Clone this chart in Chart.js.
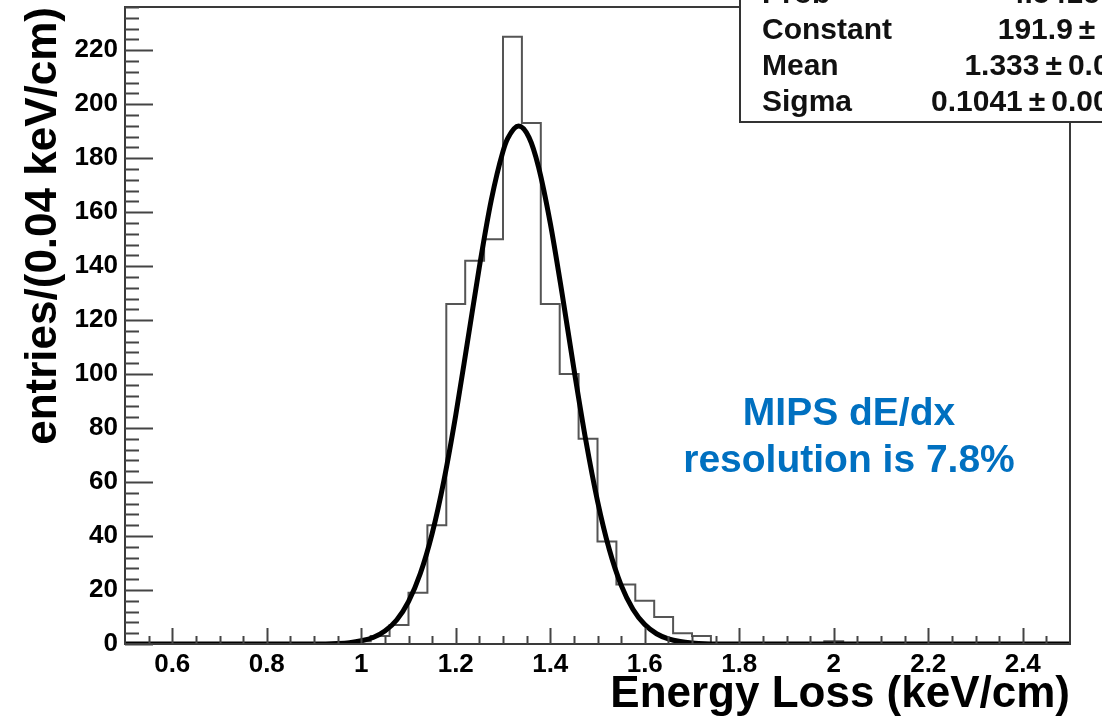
<!DOCTYPE html>
<html>
<head>
<meta charset="utf-8">
<script src="https://cdn.jsdelivr.net/npm/chart.js@4.4.1/dist/chart.umd.min.js"></script>
<style>
  html, body { margin: 0; padding: 0; background: #fff; }
  canvas { display: block; }
</style>
</head>
<body>
<canvas id="histChart" width="1102" height="717"></canvas>
<script>
// histogram: lower bin edges (0.04 keV/cm wide) and entries per bin
const binLow = [0.50, 0.54, 0.58, 0.62, 0.66, 0.70, 0.74, 0.78, 0.82, 0.86,
                0.90, 0.94, 0.98, 1.02, 1.06, 1.10, 1.14, 1.18, 1.22, 1.26,
                1.30, 1.34, 1.38, 1.42, 1.46, 1.50, 1.54, 1.58, 1.62, 1.66,
                1.70, 1.74, 1.78, 1.82, 1.86, 1.90, 1.94, 1.98, 2.02, 2.06,
                2.10, 2.14, 2.18, 2.22, 2.26, 2.30, 2.34, 2.38, 2.42, 2.46];
const binHigh = 2.50;
const counts = [0, 0, 0, 0, 0, 0, 0, 0, 0, 0,
                0, 0, 1, 3, 7, 19, 44, 126, 142, 150,
                225, 193, 126, 100, 76, 38, 22, 16, 10, 4,
                3, 0, 0, 0, 0, 0, 0, 1, 0, 0,
                0, 0, 0, 0, 0, 0, 0, 0, 0, 0];

// gaussian fit curve
const fitX = [0.50, 0.90, 0.95, 0.975, 1.00, 1.025, 1.05, 1.075, 1.10, 1.125,
              1.15, 1.175, 1.20, 1.225, 1.25, 1.275, 1.30, 1.31, 1.333, 1.355,
              1.375, 1.40, 1.425, 1.45, 1.475, 1.50, 1.525, 1.55, 1.575, 1.60,
              1.625, 1.65, 1.675, 1.70, 1.75, 2.50];
const fitY = [0, 0, 0.2, 0.5, 1.2, 2.4, 4.8, 8.9, 15.7, 26.1,
              40.9, 60.6, 84.8, 112.1, 139.7, 164.3, 182.5, 187.3, 191.9, 187.7,
              176.9, 156.0, 129.9, 102.0, 75.7, 53.0, 35.0, 21.8, 12.9, 7.2,
              3.8, 1.9, 0.9, 0.4, 0, 0];

// fit statistics box
const statNames = ['Prob', 'Constant', 'Mean', 'Sigma'];
const statValues = ['4.541e-05', '191.9\u2009\u00b1\u20096.1', '1.333\u2009\u00b1\u20090.003', '0.1041\u2009\u00b1\u20090.0025'];

const xTicks = [0.6, 0.8, 1.0, 1.2, 1.4, 1.6, 1.8, 2.0, 2.2, 2.4];
const xTickLabels = ['0.6', '0.8', '1', '1.2', '1.4', '1.6', '1.8', '2', '2.2', '2.4'];
const yTicks = [0, 20, 40, 60, 80, 100, 120, 140, 160, 180, 200, 220];
const yTickLabels = ['0', '20', '40', '60', '80', '100', '120', '140', '160', '180', '200', '220'];

const noteLines = ['MIPS dE/dx', 'resolution is 7.8%'];

const FONT = 'Liberation Sans, Arial, Helvetica, sans-serif';

const histPoints = binLow.map((x, i) => ({ x: x, y: counts[i] }));
histPoints.push({ x: binHigh, y: counts[counts.length - 1] });
const fitPoints = fitX.map((x, i) => ({ x: x, y: fitY[i] }));

// ROOT style frame, inward ticks, stats box and the blue note
const rootStyle = {
  id: 'rootStyle',
  afterDatasetsDraw(chart) {
    const { ctx, chartArea: a, scales: { x, y } } = chart;
    ctx.save();
    ctx.strokeStyle = '#3a3a3a';
    ctx.lineWidth = 2;
    ctx.strokeRect(a.left, a.top, a.right - a.left, a.bottom - a.top);

    ctx.strokeStyle = '#444';
    ctx.lineWidth = 2;
    ctx.beginPath();
    for (let k = 0; k * 4 <= 236; k++) {
      const py = Math.round(y.getPixelForValue(k * 4)) + 0.5;
      const len = (k % 5 === 0) ? 28 : 14;
      ctx.moveTo(a.left, py);
      ctx.lineTo(a.left + len, py);
    }
    for (let k = 11; k <= 49; k++) {
      const v = k * 0.05;
      const px = Math.round(x.getPixelForValue(v)) + 0.5;
      const len = (k % 4 === 0) ? 16 : 8;
      ctx.moveTo(px, a.bottom);
      ctx.lineTo(px, a.bottom - len);
    }
    ctx.stroke();
    ctx.restore();
  },
  afterDraw(chart) {
    const { ctx } = chart;
    ctx.save();
    // stats box, runs past the right edge of the picture
    ctx.fillStyle = '#fff';
    ctx.fillRect(740, -10, 420, 132);
    ctx.strokeStyle = '#333';
    ctx.lineWidth = 2;
    ctx.strokeRect(740, -10, 420, 132);
    ctx.fillStyle = '#111';
    ctx.font = 'bold 30px ' + FONT;
    ctx.textBaseline = 'alphabetic';
    statNames.forEach((name, i) => {
      const by = 3 + i * 36;
      ctx.textAlign = 'left';
      ctx.fillText(name, 762, by);
      ctx.textAlign = 'right';
      ctx.fillText(statValues[i], 1143, by);
    });

    ctx.fillStyle = '#0070C0';
    ctx.font = 'bold 39px ' + FONT;
    ctx.textAlign = 'center';
    ctx.fillText(noteLines[0], 849, 425);
    ctx.fillText(noteLines[1], 849, 472);
    ctx.restore();
  }
};

const tickFont = { family: FONT, size: 26, weight: 'bold' };
const titleFont = { family: FONT, size: 44, weight: 'bold', lineHeight: 1 };

new Chart(document.getElementById('histChart'), {
  type: 'line',
  data: {
    datasets: [{
      label: 'gaus fit',
      data: fitPoints,
      borderColor: '#000',
      borderWidth: 5,
      pointRadius: 0,
      cubicInterpolationMode: 'monotone',
      borderCapStyle: 'round',
      borderJoinStyle: 'round'
    }, {
      label: 'dE/dx',
      data: histPoints,
      borderColor: '#555',
      borderWidth: 2,
      pointRadius: 0,
      stepped: 'before'
    }]
  },
  options: {
    responsive: false,
    animation: false,
    events: [],
    layout: { padding: { top: 7, right: 32, left: 0, bottom: 0 } },
    plugins: {
      legend: { display: false },
      tooltip: { enabled: false }
    },
    scales: {
      x: {
        type: 'linear',
        min: 0.5,
        max: 2.5,
        grid: { display: false, drawTicks: false },
        border: { display: false },
        afterBuildTicks: s => { s.ticks = xTicks.map(v => ({ value: v })); },
        afterFit: s => { s.height = 73; s.paddingLeft = 0; s.paddingRight = 0; },
        ticks: {
          autoSkip: false,
          maxRotation: 0,
          padding: 5,
          color: '#000',
          font: tickFont,
          callback: (v, i) => xTickLabels[i]
        },
        title: {
          display: true,
          text: 'Energy Loss (keV/cm)',
          align: 'end',
          color: '#000',
          font: titleFont,
          padding: { top: 0, bottom: 0 }
        }
      },
      y: {
        min: 0,
        max: 236,
        grid: { display: false, drawTicks: false },
        border: { display: false },
        afterBuildTicks: s => { s.ticks = yTicks.map(v => ({ value: v })); },
        afterFit: s => { s.width = 125; s.paddingTop = 0; s.paddingBottom = 0; },
        ticks: {
          autoSkip: false,
          padding: 7,
          color: '#000',
          font: tickFont,
          callback: (v, i) => yTickLabels[i]
        },
        title: {
          display: true,
          text: 'entries/(0.04 keV/cm)',
          align: 'end',
          color: '#000',
          font: titleFont,
          padding: { top: 22, bottom: 0 }
        }
      }
    }
  },
  plugins: [rootStyle]
});
</script>
</body>
</html>
